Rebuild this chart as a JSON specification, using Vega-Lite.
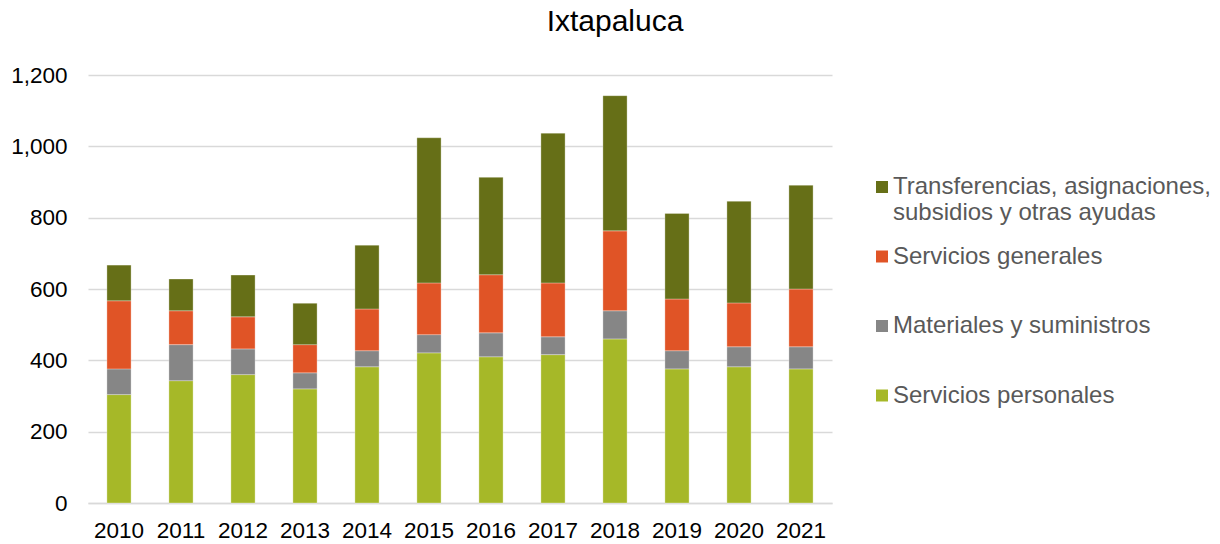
{
  "$schema": "https://vega.github.io/schema/vega-lite/v6.json",
  "width": 744,
  "height": 428,
  "autosize": {"type": "none"},
  "padding": {"left": 88, "top": 75, "right": 388, "bottom": 41},
  "background": "white",
  "config": {"view": {"stroke": null}},
  "title": {"text": "Ixtapaluca", "font": "Liberation Sans", "fontSize": 30, "fontWeight": "normal", "color": "#000000", "anchor": "middle", "dx": 155, "offset": 27},
  "data": {"values": [
    {"anio": "2010", "serie": "Servicios personales", "valor": 304},
    {"anio": "2010", "serie": "Materiales y suministros", "valor": 72},
    {"anio": "2010", "serie": "Servicios generales", "valor": 191},
    {"anio": "2010", "serie": "Transferencias, asignaciones, subsidios y otras ayudas", "valor": 100},
    {"anio": "2011", "serie": "Servicios personales", "valor": 343},
    {"anio": "2011", "serie": "Materiales y suministros", "valor": 101},
    {"anio": "2011", "serie": "Servicios generales", "valor": 95},
    {"anio": "2011", "serie": "Transferencias, asignaciones, subsidios y otras ayudas", "valor": 89},
    {"anio": "2012", "serie": "Servicios personales", "valor": 360},
    {"anio": "2012", "serie": "Materiales y suministros", "valor": 72},
    {"anio": "2012", "serie": "Servicios generales", "valor": 90},
    {"anio": "2012", "serie": "Transferencias, asignaciones, subsidios y otras ayudas", "valor": 117},
    {"anio": "2013", "serie": "Servicios personales", "valor": 320},
    {"anio": "2013", "serie": "Materiales y suministros", "valor": 45},
    {"anio": "2013", "serie": "Servicios generales", "valor": 79},
    {"anio": "2013", "serie": "Transferencias, asignaciones, subsidios y otras ayudas", "valor": 116},
    {"anio": "2014", "serie": "Servicios personales", "valor": 382},
    {"anio": "2014", "serie": "Materiales y suministros", "valor": 45},
    {"anio": "2014", "serie": "Servicios generales", "valor": 117},
    {"anio": "2014", "serie": "Transferencias, asignaciones, subsidios y otras ayudas", "valor": 179},
    {"anio": "2015", "serie": "Servicios personales", "valor": 421},
    {"anio": "2015", "serie": "Materiales y suministros", "valor": 51},
    {"anio": "2015", "serie": "Servicios generales", "valor": 145},
    {"anio": "2015", "serie": "Transferencias, asignaciones, subsidios y otras ayudas", "valor": 407},
    {"anio": "2016", "serie": "Servicios personales", "valor": 410},
    {"anio": "2016", "serie": "Materiales y suministros", "valor": 67},
    {"anio": "2016", "serie": "Servicios generales", "valor": 163},
    {"anio": "2016", "serie": "Transferencias, asignaciones, subsidios y otras ayudas", "valor": 273},
    {"anio": "2017", "serie": "Servicios personales", "valor": 416},
    {"anio": "2017", "serie": "Materiales y suministros", "valor": 50},
    {"anio": "2017", "serie": "Servicios generales", "valor": 151},
    {"anio": "2017", "serie": "Transferencias, asignaciones, subsidios y otras ayudas", "valor": 420},
    {"anio": "2018", "serie": "Servicios personales", "valor": 460},
    {"anio": "2018", "serie": "Materiales y suministros", "valor": 79},
    {"anio": "2018", "serie": "Servicios generales", "valor": 224},
    {"anio": "2018", "serie": "Transferencias, asignaciones, subsidios y otras ayudas", "valor": 379},
    {"anio": "2019", "serie": "Servicios personales", "valor": 376},
    {"anio": "2019", "serie": "Materiales y suministros", "valor": 51},
    {"anio": "2019", "serie": "Servicios generales", "valor": 145},
    {"anio": "2019", "serie": "Transferencias, asignaciones, subsidios y otras ayudas", "valor": 240},
    {"anio": "2020", "serie": "Servicios personales", "valor": 382},
    {"anio": "2020", "serie": "Materiales y suministros", "valor": 56},
    {"anio": "2020", "serie": "Servicios generales", "valor": 123},
    {"anio": "2020", "serie": "Transferencias, asignaciones, subsidios y otras ayudas", "valor": 285},
    {"anio": "2021", "serie": "Servicios personales", "valor": 376},
    {"anio": "2021", "serie": "Materiales y suministros", "valor": 62},
    {"anio": "2021", "serie": "Servicios generales", "valor": 162},
    {"anio": "2021", "serie": "Transferencias, asignaciones, subsidios y otras ayudas", "valor": 291}
  ]},
  "transform": [
    {"calculate": "indexof(['Servicios personales', 'Materiales y suministros', 'Servicios generales', 'Transferencias, asignaciones, subsidios y otras ayudas'], datum.serie)", "as": "orden"}
  ],
  "mark": {"type": "bar", "stroke": "#ffffff", "strokeWidth": 0.5, "strokeOpacity": 0.6},
  "encoding": {
    "x": {"field": "anio", "type": "nominal", "title": null,
      "scale": {"paddingInner": 0.61, "paddingOuter": 0.305},
      "axis": {"labelAngle": 0, "labelFont": "Liberation Sans", "labelFontSize": 22.5, "labelColor": "#000000", "labelPadding": 16, "ticks": false, "domainColor": "#d9d9d9", "domainWidth": 1.5}},
    "y": {"field": "valor", "type": "quantitative", "aggregate": "sum", "title": null,
      "scale": {"domain": [0, 1200], "nice": false},
      "axis": {"values": [0, 200, 400, 600, 800, 1000, 1200], "format": ",.0f", "labelFont": "Liberation Sans", "labelFontSize": 22.5, "labelColor": "#000000", "labelPadding": 21, "ticks": false, "domain": false, "gridColor": "#d9d9d9", "gridWidth": 1.5}},
    "color": {"field": "serie", "type": "nominal",
      "scale": {"domain": ["Transferencias, asignaciones, subsidios y otras ayudas", "Servicios generales", "Materiales y suministros", "Servicios personales"],
        "range": ["#666f17", "#e05426", "#868686", "#a6b828"]},
      "legend": {"title": null, "orient": "none", "legendX": 782, "legendY": 100, "symbolType": "square", "symbolSize": 144, "symbolStrokeWidth": 0, "labelFont": "Liberation Sans", "labelFontSize": 24, "labelColor": "#595959", "labelLimit": 400, "rowPadding": 19.5, "labelOffset": -1,
        "labelExpr": "datum.label == 'Transferencias, asignaciones, subsidios y otras ayudas' ? ['Transferencias, asignaciones,', 'subsidios y otras ayudas'] : [datum.label, '']"}},
    "order": {"field": "orden", "type": "quantitative", "sort": "ascending"}
  }
}
